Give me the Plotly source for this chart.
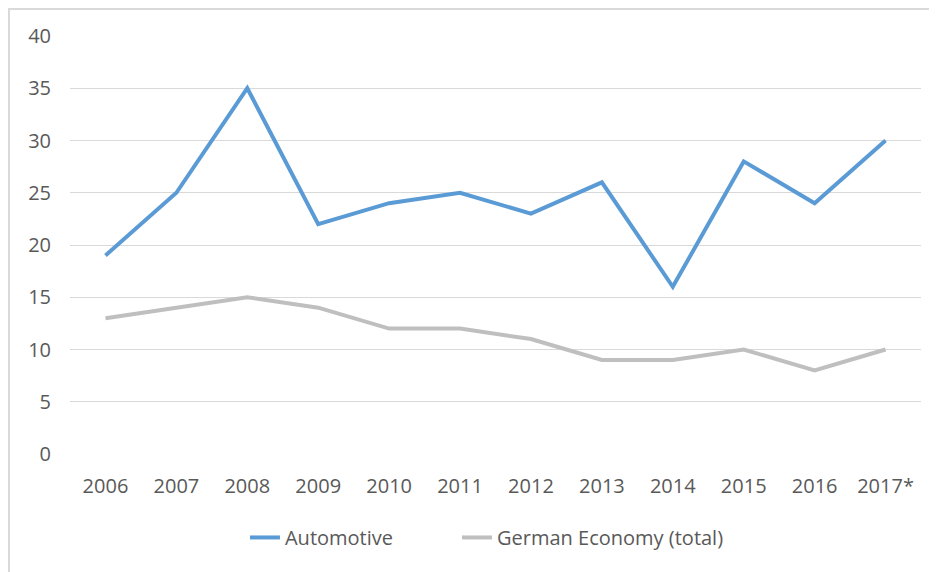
import plotly.graph_objects as go

years = ["2006", "2007", "2008", "2009", "2010", "2011", "2012", "2013", "2014", "2015", "2016", "2017*"]
automotive = [19, 25, 35, 22, 24, 25, 23, 26, 16, 28, 24, 30]
german_economy = [13, 14, 15, 14, 12, 12, 11, 9, 9, 10, 8, 10]
y_ticks = [0, 5, 10, 15, 20, 25, 30, 35, 40]

FONT = "Open Sans"
TXT = "#595959"
FS = 20

fig = go.Figure()
fig.add_trace(go.Scatter(x=years, y=automotive, mode="lines", name="Automotive",
                         line=dict(color="#5B9BD5", width=4), legend="legend"))
fig.add_trace(go.Scatter(x=years, y=german_economy, mode="lines", name="German Economy (total)",
                         line=dict(color="#BFBFBF", width=4), legend="legend2"))

leg_common = dict(orientation="h", y=-0.153, yanchor="top", xanchor="left",
                  font=dict(family=FONT, size=FS, color=TXT), bgcolor="rgba(0,0,0,0)")

fig.update_layout(
    width=929, height=564,
    margin=dict(l=62, r=16, t=28, b=118),
    paper_bgcolor="white", plot_bgcolor="white",
    font=dict(family=FONT, size=FS, color=TXT),
    showlegend=True,
    legend=dict(x=0.2056, **leg_common),
    legend2=dict(x=0.4548, **leg_common),
    xaxis=dict(type="category", range=[-0.5, 11.5], showgrid=False, zeroline=False,
               showline=False, automargin=False,
               ticks="", tickfont=dict(family=FONT, size=FS, color=TXT),
               ticklabelstandoff=18),
    yaxis=dict(range=[0, 40], tickvals=y_ticks, showgrid=True, gridcolor="#D9D9D9",
               gridwidth=1, zeroline=False, showline=False, ticks="", automargin=False,
               tickfont=dict(family=FONT, size=FS, color=TXT), ticklabelstandoff=18),
    shapes=[dict(type="rect", xref="paper", yref="paper", x0=-0.0717, x1=1.05,
                 y0=-0.4, y1=1.0646, line=dict(color="#D9D9D9", width=2), layer="below")],
)

fig.write_html("out.html")
